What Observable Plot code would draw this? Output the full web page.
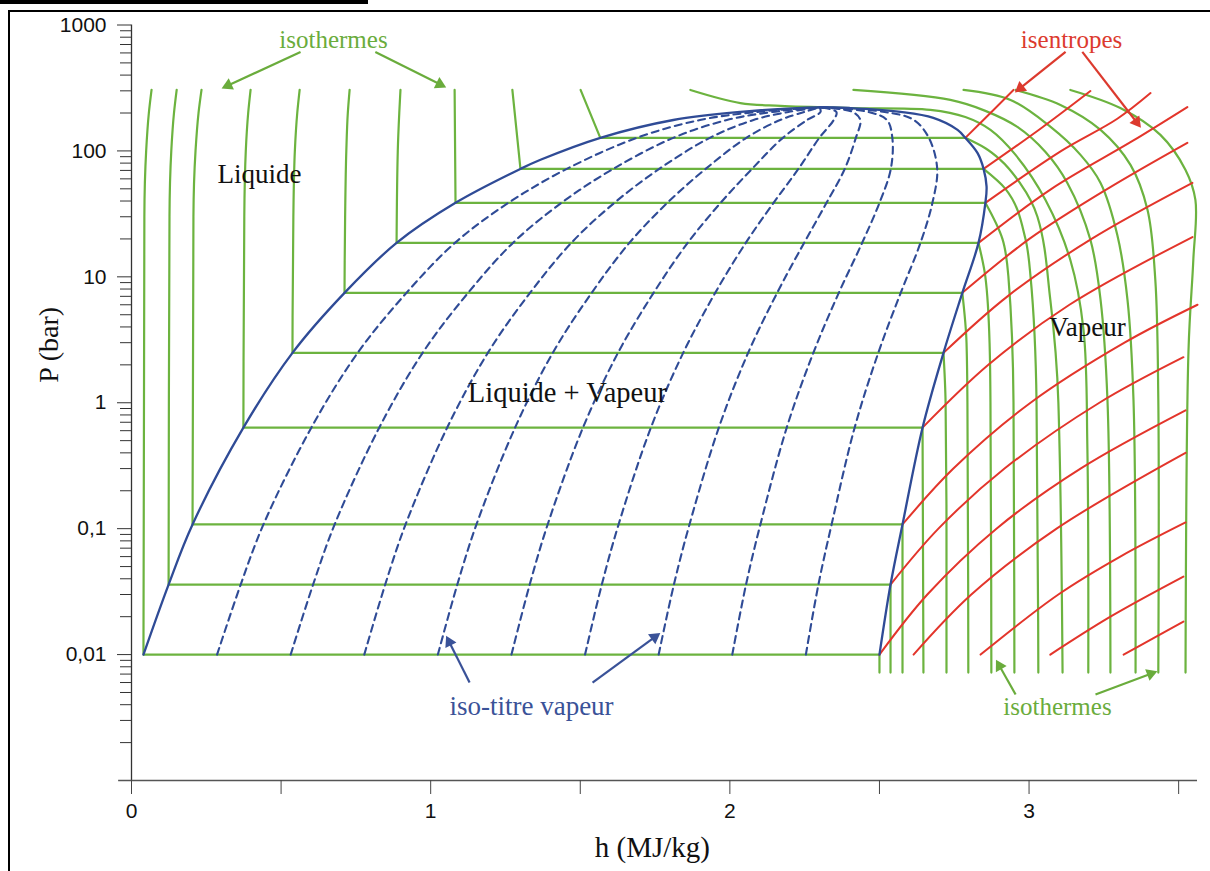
<!DOCTYPE html>
<html><head><meta charset="utf-8">
<script src="https://cdn.jsdelivr.net/npm/d3@7"></script>
<script src="https://cdn.jsdelivr.net/npm/@observablehq/plot@0.6"></script>
<style>
body{margin:0;background:#fff;}
#wrap{position:relative;width:1210px;height:871px;overflow:hidden;background:#fff;}
#frame{position:absolute;left:8px;top:10px;width:1300px;height:1000px;border-left:2px solid #000;border-top:2px solid #000;pointer-events:none;}
#uline{position:absolute;left:0;top:0;width:368px;height:4px;background:#000;}
</style></head><body>
<div id="wrap"><div id="uline"></div><div id="frame"></div></div>
<script>
// ---------- axes ----------
const yMajorTicks = [1000, 100, 10, 1, 0.1, 0.01];
const yMajorLabels = ["1000", "100", "10", "1", "0,1", "0,01"];
const xMajorTicks = [0, 1, 2, 3];
const xMinorTicks = [0.5, 1.5, 2.5, 3.5];

// ---------- saturation dome [h MJ/kg, P bar] ----------
const domeLiquid = [[0.040,0.01],[0.124,0.036],[0.204,0.108],[0.374,0.634],[0.538,2.49],[0.712,7.46],[0.886,18.6],[1.083,38.7],[1.300,72],[1.367,85],[1.567,127],[1.811,176],[2.035,204],[2.30,222]];
const domeVapour = [[2.30,222],[2.403,219],[2.570,204],[2.680,183],[2.761,147],[2.787,127],[2.828,96],[2.848,72],[2.858,52],[2.854,38.7],[2.831,18.6],[2.777,7.46],[2.714,2.49],[2.644,0.634],[2.577,0.108],[2.537,0.036],[2.500,0.01]];

// ---------- isobars inside the dome ----------
const isobarP  = [0.01, 0.036, 0.108, 0.634, 2.49, 7.46, 18.6, 38.7, 72, 127];
const isobarHL = [0.040, 0.124, 0.204, 0.374, 0.538, 0.712, 0.886, 1.083, 1.300, 1.567];
const isobarHV = [2.500, 2.537, 2.577, 2.644, 2.714, 2.777, 2.831, 2.854, 2.848, 2.787];

// ---------- iso-titre (quality 0.1 ... 0.9) ----------
const qualityP = [0.01, 0.036, 0.108, 0.634, 2.49, 7.46, 18.6, 38.7, 72, 127, 176, 204, 222];
const qualityH = [
  [0.286,0.365,0.441,0.601,0.756,0.919,1.081,1.260,1.455,1.689,1.900,2.089,2.30],
  [0.532,0.607,0.679,0.828,0.973,1.125,1.275,1.437,1.610,1.811,1.990,2.142,2.30],
  [0.778,0.848,0.916,1.055,1.191,1.332,1.470,1.614,1.764,1.933,2.079,2.196,2.30],
  [1.024,1.089,1.153,1.282,1.408,1.538,1.664,1.791,1.919,2.055,2.168,2.249,2.30],
  [1.270,1.331,1.391,1.509,1.626,1.745,1.859,1.969,2.074,2.177,2.258,2.303,2.30],
  [1.516,1.572,1.628,1.736,1.844,1.951,2.053,2.146,2.229,2.299,2.347,2.356,2.30],
  [1.762,1.813,1.865,1.963,2.061,2.158,2.248,2.323,2.384,2.421,2.436,2.410,2.30],
  [2.008,2.054,2.102,2.190,2.279,2.364,2.442,2.500,2.538,2.543,2.525,2.463,2.30],
  [2.254,2.296,2.340,2.417,2.496,2.571,2.637,2.677,2.693,2.665,2.615,2.517,2.30]
];

// ---------- isotherms, liquid side [h, P] ----------
const isothermLiquid = [
  [[0.067,305],[0.058,200],[0.049,100],[0.043,30],[0.040,0.01]],
  [[0.151,305],[0.142,200],[0.133,100],[0.127,30],[0.124,0.036]],
  [[0.234,305],[0.224,200],[0.214,100],[0.207,30],[0.204,0.108]],
  [[0.398,305],[0.390,200],[0.382,100],[0.377,30],[0.374,0.634]],
  [[0.562,305],[0.554,200],[0.546,100],[0.541,30],[0.538,2.49]],
  [[0.729,305],[0.723,200],[0.718,100],[0.714,30],[0.712,7.46]],
  [[0.899,305],[0.895,200],[0.890,100],[0.886,18.6]],
  [[1.080,305],[1.083,38.7]],
  [[1.273,305],[1.300,72]],
  [[1.501,305],[1.567,127]]
];
// ---------- isotherms, vapour side [h, P] ----------
const isothermVapour = [
  [[2.500,0.01],[2.500,0.0072]],
  [[2.537,0.036],[2.537,0.0072]],
  [[2.577,0.108],[2.577,0.0072]],
  [[2.644,0.634],[2.647,0.0072]],
  [[2.714,2.49],[2.721,1],[2.724,0.1],[2.724,0.0072]],
  [[2.777,7.46],[2.791,3],[2.794,1],[2.797,0.0072]],
  [[2.831,18.6],[2.854,10],[2.868,3],[2.871,1],[2.874,0.0072]],
  [[2.854,38.7],[2.911,20],[2.931,10],[2.948,1],[2.951,0.0072]],
  [[2.848,72],[2.921,50],[2.988,20],[3.005,10],[3.025,1],[3.031,0.0072]],
  [[2.787,127],[2.854,105],[2.904,85],[2.971,55],[3.028,30],[3.071,6.6],[3.098,1],[3.112,0.0072]]
];
// ---------- isotherms near / above the critical point ----------
const isothermHigh = [
  [[1.868,305],[2.035,240],[2.169,228],[2.403,219],[2.670,212],[2.787,186],[2.871,147],[2.955,93],[3.055,40.8],[3.138,13.6],[3.182,3.8],[3.195,0.424],[3.198,0.0072]],
  [[2.413,305],[2.737,254],[2.854,208],[2.961,155],[3.055,98],[3.128,55.7],[3.205,19.7],[3.239,6.57],[3.262,1.06],[3.272,0.0072]],
  [[2.781,305],[2.938,254],[3.072,155],[3.172,93],[3.239,55.7],[3.295,21.5],[3.329,6.57],[3.349,1.06],[3.356,0.0072]],
  [[2.955,305],[3.105,232],[3.239,147],[3.339,77.4],[3.396,34],[3.422,9.46],[3.432,1.06],[3.432,0.0072]],
  [[3.138,305],[3.305,219],[3.439,134],[3.523,70.6],[3.556,40.8],[3.549,13.6],[3.533,2.64],[3.523,0.0072]]
];

// ---------- isentropes [h, P] ----------
const isentropes = [
  [[2.500,0.01],[2.660,0.03],[2.891,0.1],[3.172,0.3],[3.523,0.87]],
  [[2.537,0.036],[2.697,0.1],[2.918,0.3],[3.235,1],[3.516,2.3]],
  [[2.577,0.108],[2.747,0.3],[3.005,1],[3.319,3],[3.563,6]],
  [[2.644,0.634],[2.864,2],[3.135,6],[3.546,20.7]],
  [[2.714,2.49],[2.928,7],[3.209,20],[3.546,55.7]],
  [[2.777,7.46],[3.001,20],[3.262,50],[3.529,116]],
  [[2.831,18.6],[3.075,50],[3.346,120],[3.529,223]],
  [[2.854,38.7],[3.108,100],[3.295,180],[3.406,288]],
  [[2.848,72],[3.038,150],[3.205,299]],
  [[2.787,127],[2.871,200],[2.948,305]],
  [[2.614,0.01],[2.807,0.03],[3.092,0.1],[3.523,0.4]],
  [[2.838,0.01],[3.098,0.03],[3.305,0.06],[3.523,0.112]],
  [[3.071,0.01],[3.272,0.02],[3.516,0.0416]],
  [[3.316,0.01],[3.416,0.0135],[3.516,0.0183]]
];

// ---------- annotations ----------
const arrowFromH = [0.565, 0.815, 3.122, 3.178, 1.130, 1.541, 2.955, 3.222];
const arrowFromP = [611, 611, 611, 611, 0.006, 0.006, 0.00482, 0.00482];
const arrowToH   = [0.304, 1.049, 2.955, 3.372, 1.053, 1.765, 2.891, 3.426];
const arrowToP   = [316, 322, 294, 155, 0.0139, 0.0147, 0.00896, 0.00733];
const arrowKind  = ["g","g","r","r","b","b","g","g"];

const labelText = ["isothermes", "isentropes", "iso-titre vapeur", "isothermes", "Liquide", "Liquide + Vapeur", "Vapeur"];
const labelH    = [0.675, 3.142, 1.337, 3.095, 0.428, 1.457, 3.195];
const labelP    = [760, 760, 0.00386, 0.0038, 64.6, 1.2, 4.0];
const labelKind = ["g", "r", "b", "g", "k", "k", "k"];
const labelSize = [25, 25, 27, 25, 27, 28.5, 27];

// ---------- build tables ----------
const green = "#6cb33f", red = "#e3352b", blue = "#2f4b96";
const colorOf = {g: "#6aac3c", r: "#dc3a2e", b: "#3a5298", k: "#111"};
const toRows = (series, key) => series.flatMap((pts, i) => pts.map(([h, P]) => ({h, P, id: key + i})));
const yMinorTicks = [];
for (let e = -3; e <= 2; e++) for (let m = 2; m <= 9; m++) yMinorTicks.push(+(m * Math.pow(10, e)).toPrecision(3));

const domeRows = toRows([domeLiquid.concat(domeVapour.slice(1))], "dome");
const qualityRows = qualityH.flatMap((hs, i) => hs.map((h, j) => ({h, P: qualityP[j], id: "q" + i})));
const isobarRows = isobarP.map((P, i) => ({P, h1: isobarHL[i], h2: isobarHV[i]}));
const arrows = arrowFromH.map((h, i) => ({x1: h, y1: arrowFromP[i], x2: arrowToH[i], y2: arrowToP[i], c: colorOf[arrowKind[i]]}));
const labels = labelText.map((t, i) => ({t, h: labelH[i], P: labelP[i], c: colorOf[labelKind[i]], s: labelSize[i]}));

const serif = "'Liberation Serif', 'Times New Roman', serif";
const lineOpts = (stroke, w) => ({x: "h", y: "P", z: "id", stroke, strokeWidth: w, curve: "catmull-rom"});

const base = {
  width: 1210, height: 871,
  marginLeft: 131, marginRight: 13, marginTop: 24.5, marginBottom: 91,
  x: {domain: [0, 3.563], label: null},
  y: {type: "log", domain: [0.001, 1000], label: null},
  style: {fontFamily: "'Liberation Sans', Arial, sans-serif", color: "#111", background: "transparent", overflow: "visible"}
};

// first pass: obtain the scales to orient the filled arrow heads
const probe = Plot.plot({...base, marks: [Plot.dot(arrows, {x: "x2", y: "y2"})]});
const sx = probe.scale("x"), sy = probe.scale("y");
const heads = arrows.map((a) => {
  const X1 = sx.apply(a.x1), Y1 = sy.apply(a.y1), X2 = sx.apply(a.x2), Y2 = sy.apply(a.y2);
  const L = Math.hypot(X2 - X1, Y2 - Y1), ux = (X2 - X1) / L, uy = (Y2 - Y1) / L;
  const back = 6.2; // distance from tip to symbol centre
  return {x: sx.invert(X2 - ux * back), y: sy.invert(Y2 - uy * back), rot: Math.atan2(ux, -uy) * 180 / Math.PI, c: a.c,
          xe: sx.invert(X2 - ux * 6), ye: sy.invert(Y2 - uy * 6)};
});
const shafts = arrows.map((a, i) => ({...a, x2: heads[i].xe, y2: heads[i].ye}));

const plot = Plot.plot({
  ...base,
  marks: [
    Plot.ruleX([0], {y1: 0.001, y2: 1000, stroke: "#333", strokeWidth: 1.3}),
    Plot.ruleY([0.001], {x1: -0.043, x2: 3.563, stroke: "#555", strokeWidth: 1.3}),
    Plot.axisY(yMajorTicks, {anchor: "left", tickSize: 14, tickPadding: 11, fontSize: 21, stroke: "#333", tickFormat: (d) => yMajorLabels[yMajorTicks.indexOf(d)]}),
    Plot.axisY(yMinorTicks, {anchor: "left", tickSize: 11, stroke: "#333", tickFormat: () => ""}),
    Plot.axisX(xMajorTicks, {anchor: "bottom", tickSize: 14, tickPadding: 9, fontSize: 21, stroke: "#444", tickFormat: (d) => String(d)}),
    Plot.axisX(xMinorTicks, {anchor: "bottom", tickSize: 14, stroke: "#444", tickFormat: () => ""}),
    // isotherms
    Plot.link(isobarRows, {x1: "h1", x2: "h2", y1: "P", y2: "P", stroke: green, strokeWidth: 2.2}),
    Plot.line(toRows(isothermLiquid, "L"), {...lineOpts(green, 2.2), curve: "monotone-y"}),
    Plot.line(toRows(isothermVapour, "V"), {...lineOpts(green, 2.2), curve: "monotone-y"}),
    Plot.line(toRows(isothermHigh, "H"), lineOpts(green, 2.2)),
    // isentropes
    Plot.line(toRows(isentropes, "S"), lineOpts(red, 2)),
    // iso-titre
    Plot.line(qualityRows, {...lineOpts(blue, 2.1), strokeDasharray: "7,5"}),
    // dome
    Plot.line(domeRows, lineOpts(blue, 2.3)),
    // arrows: shaft + filled head
    Plot.link(shafts, {x1: "x1", y1: "y1", x2: "x2", y2: "y2", stroke: "c", strokeWidth: 2.2}),
    Plot.dot(heads, {x: "x", y: "y", symbol: "triangle", r: 4.6, rotate: "rot", fill: "c", stroke: "none"}),
    // labels
    Plot.text(labels, {x: "h", y: "P", text: "t", fill: "c", fontSize: "s", fontFamily: serif}),
    Plot.text(["P (bar)"], {x: -0.274, y: 2.88, text: d => d, rotate: -90, fontSize: 28, fontFamily: serif, fill: "#111"}),
    Plot.text(["h (MJ/kg)"], {x: 1.741, y: 0.000294, text: d => d, fontSize: 29, fontFamily: serif, fill: "#111"})
  ]
});
document.getElementById("wrap").prepend(plot);
</script>
</body></html>
